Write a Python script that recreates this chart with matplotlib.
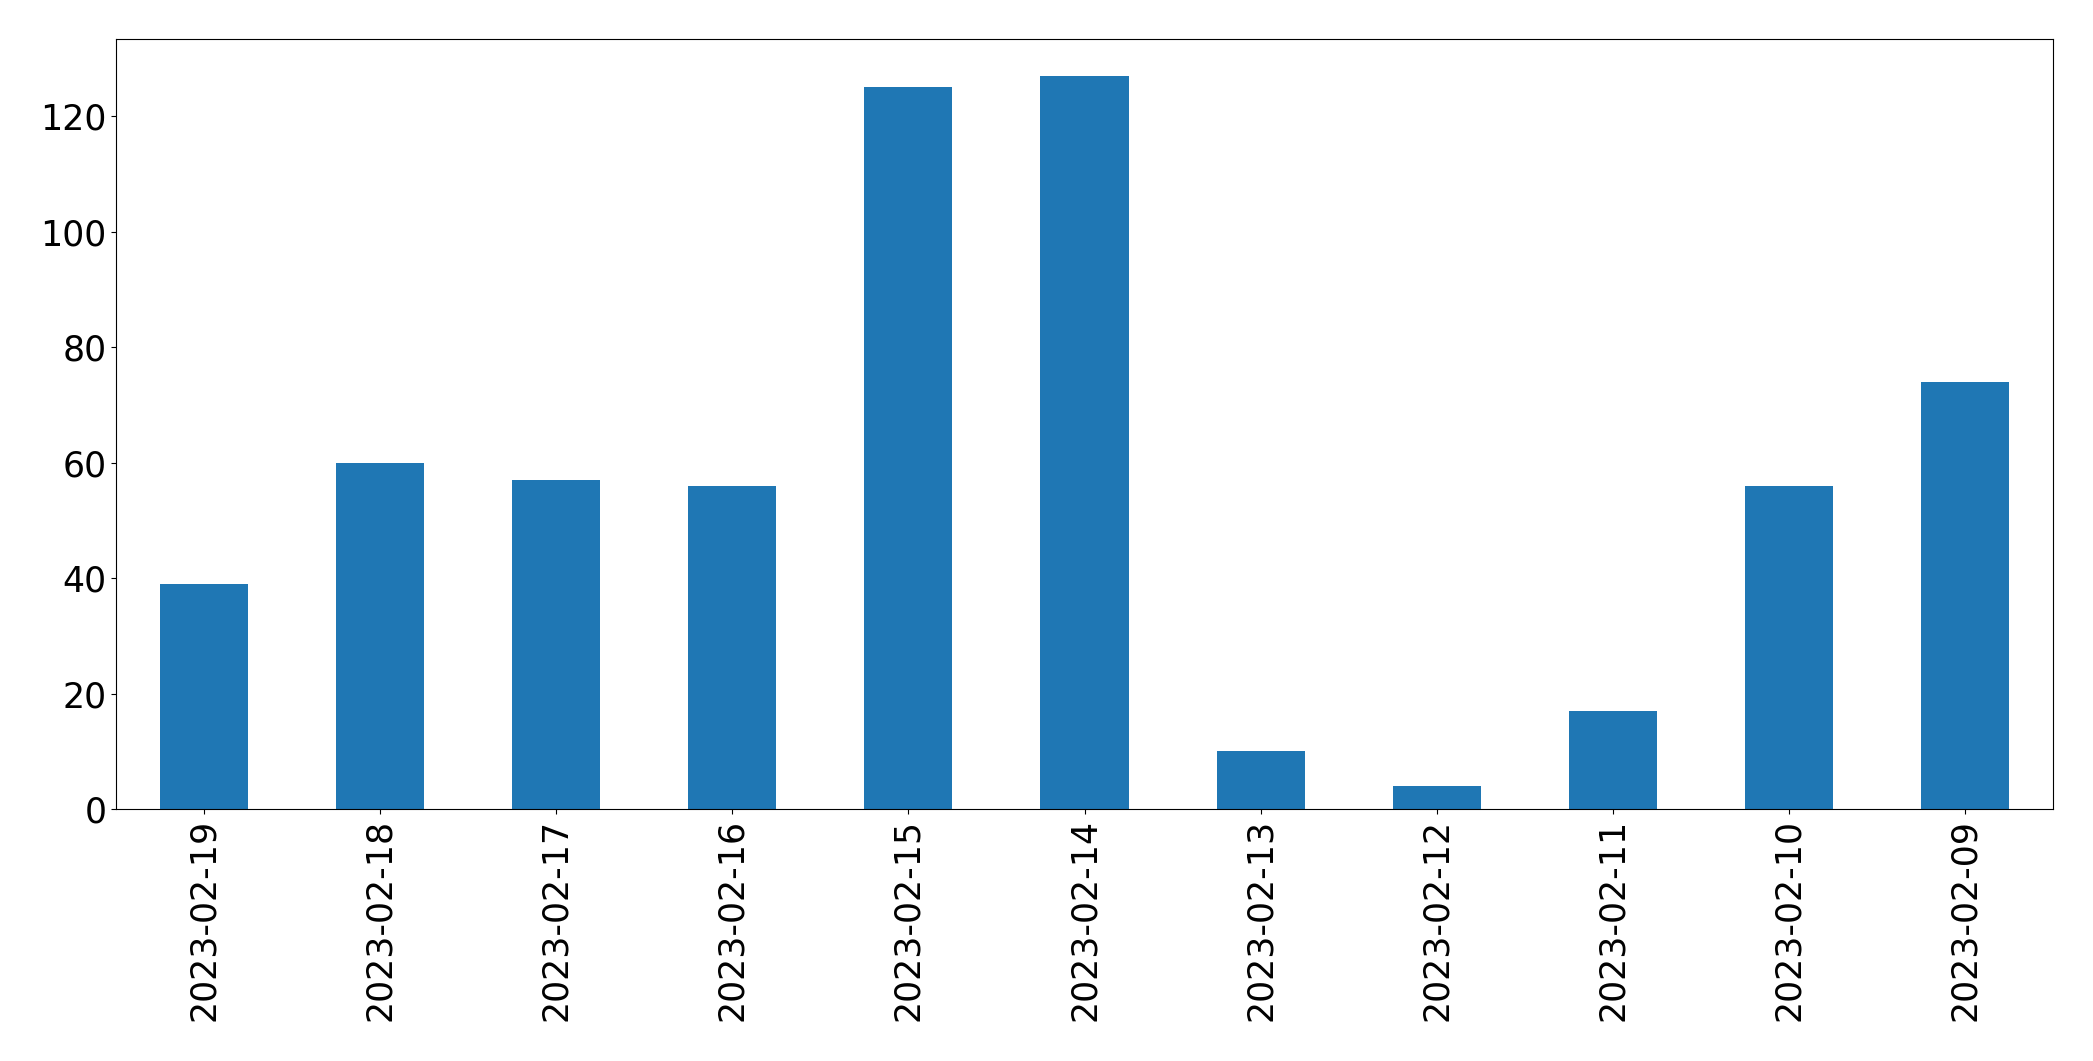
import matplotlib
matplotlib.use("Agg")
import matplotlib.pyplot as plt
import numpy as np

dates = ["2023-02-19", "2023-02-18", "2023-02-17", "2023-02-16", "2023-02-15",
         "2023-02-14", "2023-02-13", "2023-02-12", "2023-02-11", "2023-02-10",
         "2023-02-09"]
counts = [39, 60, 57, 56, 125, 127, 10, 4, 17, 56, 74]

fig = plt.figure(figsize=(20.93, 10.61), dpi=100)
ax = fig.add_axes([116 / 2093, 1 - 809 / 1061, (2053 - 116) / 2093, (809 - 39) / 1061])

x = np.arange(len(dates))
ax.bar(x, counts, width=0.5, color="#1f77b4")
ax.set_xlim(-0.5, len(dates) - 0.5)
ax.set_xticks(x)
ax.set_xticklabels(dates, rotation=90)
ax.tick_params(axis="both", labelsize=25)

fig.savefig("out.png", dpi=100)
